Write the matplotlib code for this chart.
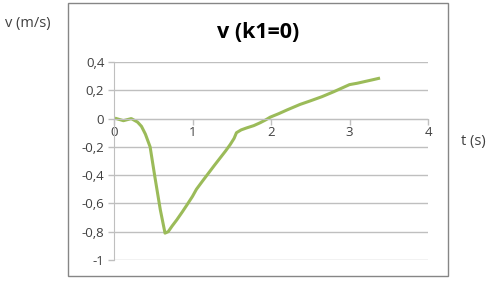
import matplotlib.pyplot as plt
from matplotlib.patches import Rectangle
from matplotlib.ticker import FuncFormatter

# velocity readings, k1 = 0
t = [0.03, 0.12, 0.22, 0.30, 0.35, 0.40, 0.46, 0.52, 0.59, 0.65, 0.69, 0.74,
     0.80, 0.87, 0.93, 1.00, 1.05, 1.13, 1.22, 1.28, 1.35, 1.42, 1.48, 1.53,
     1.56, 1.62, 1.69, 1.78, 1.86, 1.93, 1.99, 2.10, 2.20, 2.37, 2.50, 2.65,
     2.80, 2.92, 3.00, 3.10, 3.22, 3.30, 3.37]
v = [0.00, -0.015, 0.00, -0.025, -0.055, -0.11, -0.20, -0.41, -0.645, -0.81,
     -0.80, -0.76, -0.716, -0.66, -0.61, -0.55, -0.50, -0.44, -0.374, -0.33,
     -0.28, -0.23, -0.184, -0.14, -0.10, -0.08, -0.066, -0.05, -0.03, -0.01,
     0.01, 0.035, 0.06, 0.10, 0.125, 0.155, 0.19, 0.22, 0.24, 0.25, 0.265,
     0.275, 0.284]

yticks = [0.4, 0.2, 0, -0.2, -0.4, -0.6, -0.8, -1]
xticks = [0, 1, 2, 3, 4]

plt.rcParams['font.family'] = ['Open Sans', 'DejaVu Sans']

fig = plt.figure(figsize=(4.95, 2.82), dpi=100)
fig.patches.append(Rectangle((68 / 495, 1 - 276 / 282), 380 / 495, 273 / 282,
                             transform=fig.transFigure, fill=False,
                             edgecolor='#868686', linewidth=1))

ax = fig.add_axes([114 / 495, 1 - 260 / 282, 314 / 495, 198 / 282])
ax.plot(t, v, color='#9BBB59', linewidth=2.2)
ax.set_xlim(0, 4)
ax.set_ylim(-1, 0.4)
ax.set_xticks(xticks)
ax.set_yticks(yticks)

def comma(val, pos):
    s = f'{val:g}'
    return s.replace('.', ',')

ax.xaxis.set_major_formatter(FuncFormatter(comma))
ax.yaxis.set_major_formatter(FuncFormatter(comma))
ax.grid(axis='y', color='#bfbfbf', linewidth=1)
ax.set_axisbelow(True)
for s in ['top', 'right']:
    ax.spines[s].set_visible(False)
ax.spines['bottom'].set_position(('data', 0))
ax.spines['bottom'].set_color('#bfbfbf')
ax.spines['left'].set_color('#bfbfbf')
ax.tick_params(axis='both', colors='#bfbfbf', labelcolor='#404040',
               labelsize=9.5, length=4, width=1)
ax.tick_params(axis='y', pad=3)
ax.tick_params(axis='x', pad=1)

fig.text(258 / 495, 1 - 33 / 282, 'v (k1=0)', ha='center', va='center',
         fontsize=15.5, fontweight='bold', color='#000000')
fig.text(5 / 495, 1 - 23 / 282, 'v (m/s)', ha='left', va='center',
         fontsize=10.5, color='#404040')
fig.text(461 / 495, 1 - 141 / 282, 't (s)', ha='left', va='center',
         fontsize=10.5, color='#404040')

fig.savefig('out.png', dpi=100)
